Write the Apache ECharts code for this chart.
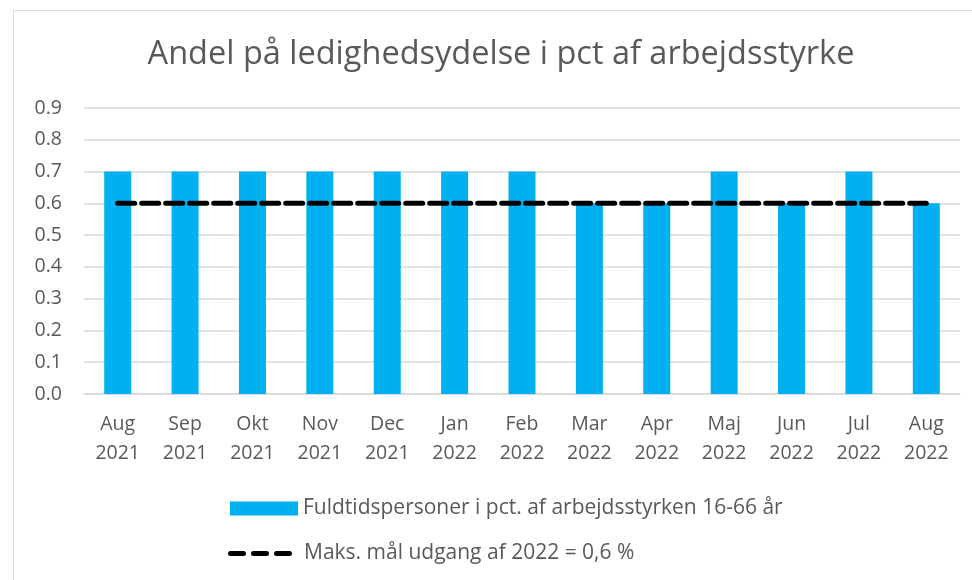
<!DOCTYPE html>
<html>
<head>
<meta charset="utf-8">
<script src="https://cdn.jsdelivr.net/npm/echarts@6/dist/echarts.min.js"></script>
<style>
  html, body { margin: 0; padding: 0; background: #fff; }
  #chart { width: 972px; height: 580px; }
</style>
</head>
<body>
<div id="chart"></div>
<script>
// data
var categories = ['Aug\n2021', 'Sep\n2021', 'Okt\n2021', 'Nov\n2021', 'Dec\n2021', 'Jan\n2022', 'Feb\n2022',
  'Mar\n2022', 'Apr\n2022', 'Maj\n2022', 'Jun\n2022', 'Jul\n2022', 'Aug\n2022'];
var shareValues = [0.7, 0.7, 0.7, 0.7, 0.7, 0.7, 0.7, 0.6, 0.6, 0.7, 0.6, 0.7, 0.6];
var targetValues = [0.6, 0.6, 0.6, 0.6, 0.6, 0.6, 0.6, 0.6, 0.6, 0.6, 0.6, 0.6, 0.6];
var barName = 'Fuldtidspersoner i pct. af arbejdsstyrken 16-66 år';
var lineName = 'Maks. mål udgang af 2022 = 0,6 %';

var font = 'Open Sans';
var textColor = '#595959';

// three rounded dashes for the target legend icon (64 x 5 box)
var dashIcon = 'path://M2.5,0 H15.5 A2.5,2.5 0 0 1 15.5,5 H2.5 A2.5,2.5 0 0 1 2.5,0 Z' +
  ' M25.5,0 H38.5 A2.5,2.5 0 0 1 38.5,5 H25.5 A2.5,2.5 0 0 1 25.5,0 Z' +
  ' M48.5,0 H61.5 A2.5,2.5 0 0 1 61.5,5 H48.5 A2.5,2.5 0 0 1 48.5,0 Z';

var chart = echarts.init(document.getElementById('chart'));

var option = {
  backgroundColor: '#fff',
  animation: false,
  textStyle: { fontFamily: font, color: textColor },
  graphic: [{
    type: 'rect',
    shape: { x: 13.5, y: 10.5, width: 980, height: 600 },
    style: { fill: 'none', stroke: '#d9d9d9', lineWidth: 1 },
    silent: true
  }],
  title: {
    text: 'Andel på ledighedsydelse i pct af arbejdsstyrke',
    left: 496,
    textAlign: 'center',
    top: 33,
    textStyle: { fontFamily: font, fontSize: 32.5, fontWeight: 'normal', color: textColor }
  },
  legend: [{
    left: 230,
    top: 498,
    padding: 0,
    itemWidth: 68,
    itemHeight: 14,
    textStyle: { fontFamily: font, fontSize: 21, color: textColor },
    data: [{ name: barName, icon: 'rect' }]
  }, {
    left: 228,
    top: 543,
    padding: 0,
    itemWidth: 64,
    itemHeight: 5,
    textStyle: { fontFamily: font, fontSize: 21, color: textColor, padding: [0, 0, 0, 7] },
    data: [{ name: lineName, icon: dashIcon, itemStyle: { color: '#000' } }]
  }],
  grid: { left: 84, right: 12, top: 108, bottom: 186 },
  xAxis: {
    type: 'category',
    data: categories,
    axisTick: { show: false },
    axisLine: { lineStyle: { color: '#d9d9d9', width: 1.5 } },
    axisLabel: { fontFamily: font, fontSize: 19.5, color: textColor, lineHeight: 29, margin: 16, interval: 0 }
  },
  yAxis: {
    type: 'value',
    min: 0,
    max: 0.9,
    interval: 0.1,
    axisLine: { show: false },
    axisTick: { show: false },
    splitLine: { lineStyle: { color: '#d9d9d9', width: 1.5 } },
    axisLabel: {
      fontFamily: font, fontSize: 19.5, color: textColor, margin: 22,
      formatter: function (v) { return v.toFixed(1); }
    }
  },
  series: [
    {
      name: barName,
      type: 'bar',
      data: shareValues,
      barWidth: 27,
      itemStyle: { color: '#00b0f0' }
    },
    {
      name: lineName,
      type: 'line',
      data: targetValues,
      symbol: 'none',
      z: 5,
      itemStyle: { color: '#000' },
      lineStyle: { color: '#000', width: 5, type: [17, 7], cap: 'round' }
    }
  ]
};

chart.setOption(option);
</script>
</body>
</html>
